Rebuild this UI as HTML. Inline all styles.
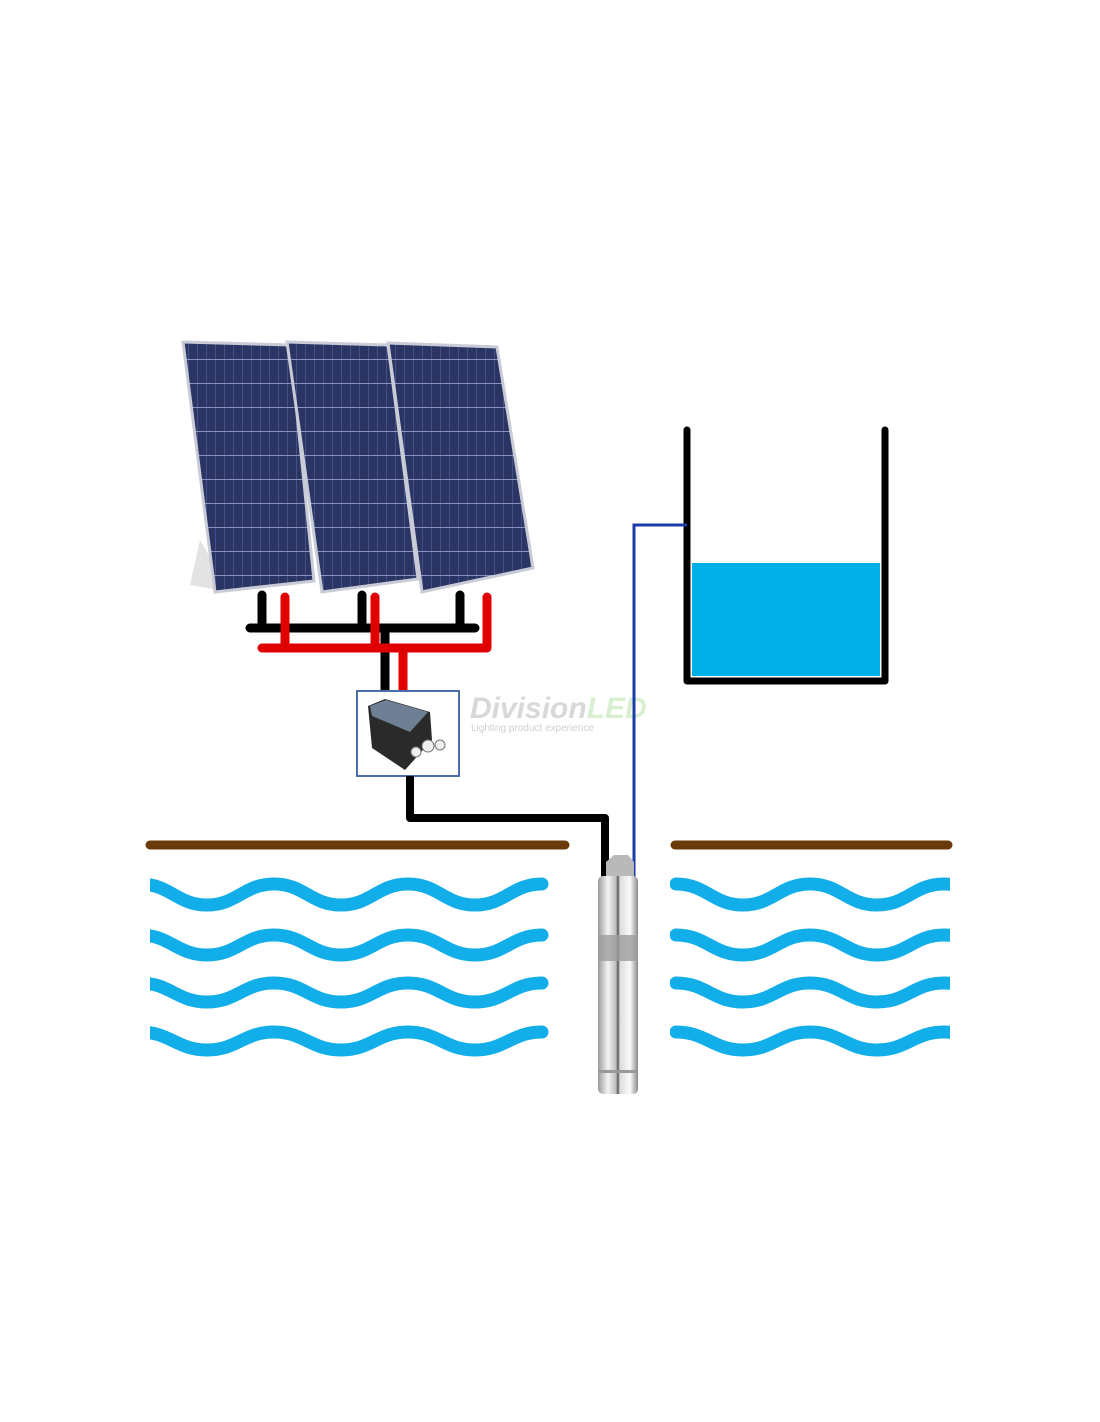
<!DOCTYPE html>
<html><head><meta charset="utf-8"><style>
html,body{margin:0;padding:0;background:#fff;}
svg{display:block}
</style></head><body>
<svg width="1100" height="1422" viewBox="0 0 1100 1422" xmlns="http://www.w3.org/2000/svg">
<defs>
<pattern id="cells" width="9" height="24" patternUnits="userSpaceOnUse">
<rect width="9" height="24" fill="#2b3563"/>
<line x1="8.5" y1="0" x2="8.5" y2="24" stroke="#4a5690" stroke-width="0.8"/>
<line x1="0" y1="23.5" x2="9" y2="23.5" stroke="#8a93bf" stroke-width="1"/>
</pattern>
<linearGradient id="steel" x1="0" x2="1" y1="0" y2="0">
<stop offset="0" stop-color="#9a9a9a"/><stop offset="0.25" stop-color="#f4f4f4"/><stop offset="0.45" stop-color="#bdbdbd"/><stop offset="0.5" stop-color="#555"/><stop offset="0.55" stop-color="#ddd"/><stop offset="0.8" stop-color="#fafafa"/><stop offset="1" stop-color="#8a8a8a"/>
</linearGradient>
<clipPath id="lc"><rect x="150" y="850" width="420" height="230"/></clipPath>
<clipPath id="rc"><rect x="670" y="850" width="280" height="230"/></clipPath>
</defs>

<path d="M200 540 L190 585 L230 592 Z" fill="#e3e3e3"/>
<g stroke="#c9ccd6" stroke-width="3">
<polygon points="183,342 290,345 314,581 215,592" fill="url(#cells)"/>
<polygon points="287,342 388,345 418,579 322,592" fill="url(#cells)"/>
<polygon points="388,343 497,347 533,568 422,592" fill="url(#cells)"/>
</g>

<g fill="none" stroke-width="9" stroke-linecap="round" stroke-linejoin="round">
<path d="M262 595 V628 M362 595 V628 M460 595 V628 M250 628 H475 M385 628 V690" stroke="#000"/>
<path d="M285 597 V648 M375 597 V648 M487 597 V648 M262 648 H487 M403 648 V690" stroke="#e00000"/>
</g>

<rect x="357" y="691" width="102" height="85" fill="#fff" stroke="#4a6ea8" stroke-width="2"/>
<path d="M368 706 L385 699 L430 712 L432 740 L405 770 L372 748 Z" fill="#2a2a2a"/>
<path d="M370 706 L386 700 L428 712 L410 732 L372 716 Z" fill="#6f7f94"/>
<circle cx="416" cy="752" r="5" fill="#eee" stroke="#777"/>
<circle cx="428" cy="746" r="6" fill="#eee" stroke="#777"/>
<circle cx="440" cy="745" r="5" fill="#eee" stroke="#777"/>

<text x="470" y="718" font-family="Liberation Sans, sans-serif" font-weight="bold" font-style="italic" font-size="30" fill="#d8d8d8">Division<tspan fill="#d8f0d0">LED</tspan></text>
<text x="471" y="731" font-family="Liberation Sans, sans-serif" font-size="10" fill="#cfcfcf">Lighting product experience</text>

<path d="M410 776 V818 H605 V878" fill="none" stroke="#000" stroke-width="8" stroke-linejoin="round"/>

<rect x="692" y="563" width="188" height="113" fill="#00aee8"/>
<path d="M687 430 V681 H885 V430" fill="none" stroke="#000" stroke-width="7" stroke-linecap="round" stroke-linejoin="round"/>
<path d="M634 880 V525 H687" fill="none" stroke="#1a3caa" stroke-width="3"/>

<path d="M150 845 H565 M675 845 H948" stroke="#6b3a0a" stroke-width="9" stroke-linecap="round"/>

<g fill="none" stroke="#12aee9" stroke-width="13" stroke-linecap="round">
<g clip-path="url(#lc)">
<path d="M140 884 c30 0 37 21 67 21 s37 -21 67 -21 s37 21 67 21 s37 -21 67 -21 s37 21 67 21 s37 -21 67 -21"/>
<path d="M140 935 c30 0 37 20 67 20 s37 -20 67 -20 s37 20 67 20 s37 -20 67 -20 s37 20 67 20 s37 -20 67 -20"/>
<path d="M140 983 c30 0 37 19 67 19 s37 -19 67 -19 s37 19 67 19 s37 -19 67 -19 s37 19 67 19 s37 -19 67 -19"/>
<path d="M140 1032 c30 0 37 18 67 18 s37 -18 67 -18 s37 18 67 18 s37 -18 67 -18 s37 18 67 18 s37 -18 67 -18"/>
</g>
<g clip-path="url(#rc)">
<path d="M676 884 c30 0 37 21 67 21 s37 -21 67 -21 s37 21 67 21 s37 -21 67 -21 s37 21 67 21"/>
<path d="M676 935 c30 0 37 20 67 20 s37 -20 67 -20 s37 20 67 20 s37 -20 67 -20 s37 20 67 20"/>
<path d="M676 983 c30 0 37 19 67 19 s37 -19 67 -19 s37 19 67 19 s37 -19 67 -19 s37 19 67 19"/>
<path d="M676 1032 c30 0 37 18 67 18 s37 -18 67 -18 s37 18 67 18 s37 -18 67 -18 s37 18 67 18"/>
</g>
</g>

<path d="M606 862 L614 855 H628 L634 862 V878 H606 Z" fill="#b9b9b9"/>
<rect x="598" y="876" width="40" height="218" rx="5" fill="url(#steel)"/>
<rect x="598" y="935" width="40" height="26" fill="#9c9c9c" opacity="0.8"/>
<rect x="598" y="1070" width="40" height="3" fill="#999"/>
</svg>
</body></html>
